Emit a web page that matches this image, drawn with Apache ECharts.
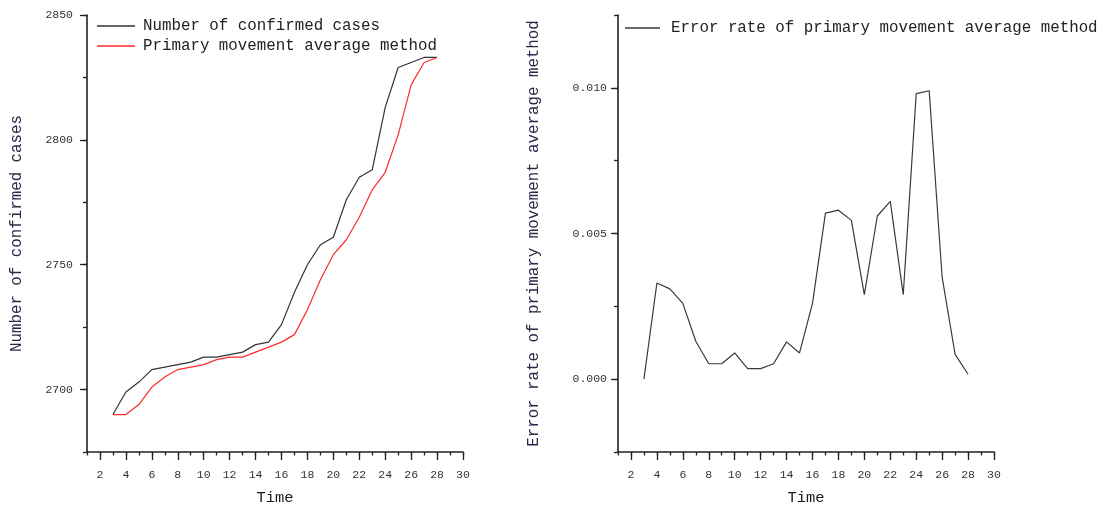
<!DOCTYPE html>
<html>
<head>
<meta charset="utf-8">
<script src="https://cdn.jsdelivr.net/npm/echarts@6/dist/echarts.min.js"></script>
<style>
  html, body { margin: 0; padding: 0; background: #fff; }
  #chart { width: 1102px; height: 511px; }
</style>
</head>
<body>
<div id="chart"></div>
<script>
// Days with observations
const time = [3, 4, 5, 6, 7, 8, 9, 10, 11, 12, 13, 14, 15, 16, 17, 18, 19, 20, 21, 22, 23, 24, 25, 26, 27, 28];

// Cumulative confirmed cases
const confirmedCases = [2690, 2699, 2703, 2708, 2709, 2710, 2711, 2713, 2713, 2714, 2715, 2718, 2719, 2726,
  2739, 2750, 2758, 2761, 2776, 2785, 2788, 2813, 2829, 2831, 2833, 2833];

// One-step moving average forecast
const movingAverage = [2690, 2690, 2694, 2701, 2705, 2708, 2709, 2710, 2712, 2713, 2713, 2715, 2717, 2719,
  2722, 2732, 2744, 2754, 2760, 2769, 2780, 2787, 2802, 2822, 2831, 2833];

// Relative error of the moving average forecast
const errorRate = [0.0000, 0.0033, 0.0031, 0.0026, 0.0013, 0.00053, 0.00053, 0.0009, 0.00036, 0.00036,
  0.00053, 0.00128, 0.0009, 0.0026, 0.0057, 0.0058, 0.00545, 0.0029, 0.0056, 0.0061, 0.0029, 0.0098,
  0.0099, 0.0035, 0.00085, 0.00017];

// Tick labels
const timeTicks = [2, 4, 6, 8, 10, 12, 14, 16, 18, 20, 22, 24, 26, 28, 30];
const casesTicks = [2700, 2750, 2800, 2850];
const errorTicks = [0, 0.005, 0.010];

const seriesNames = ['Number of confirmed cases', 'Primary movement average method'];
const errorName = 'Error rate of primary movement average method';

const FONT = 'Liberation Mono';
const AXIS_COLOR = '#222';

function pairs(xs, ys) { return xs.map((x, i) => [x, ys[i]]); }

// Base axis: axis line plus short unit ticks
function baseX(grid) {
  return {
    gridIndex: grid, type: 'value', min: 1, max: 30, interval: 1,
    axisLine: { show: true, onZero: false, lineStyle: { color: AXIS_COLOR, width: 1.6 } },
    axisTick: { show: true, length: 3.5, lineStyle: { color: AXIS_COLOR, width: 1.3 } },
    axisLabel: { show: false }, splitLine: { show: false }
  };
}
// Overlay axis: long ticks and labels at even values
function labelX(grid) {
  return {
    gridIndex: grid, type: 'value', min: 1, max: 30, position: 'bottom',
    axisLine: { show: false, onZero: false },
    axisTick: { show: true, customValues: timeTicks, length: 8, lineStyle: { color: AXIS_COLOR, width: 1.3 } },
    axisLabel: { customValues: timeTicks, margin: 17, fontFamily: FONT, fontSize: 11.5, color: '#333' },
    splitLine: { show: false },
    name: 'Time', nameLocation: 'middle', nameGap: 38,
    nameTextStyle: { fontFamily: FONT, fontSize: 15.5, color: '#1a1a1a' }
  };
}
function baseY(grid, min, max, step) {
  return {
    gridIndex: grid, type: 'value', min: min, max: max, interval: step, position: 'left',
    axisLine: { show: true, onZero: false, lineStyle: { color: AXIS_COLOR, width: 1.6 } },
    axisTick: { show: true, length: 4, lineStyle: { color: AXIS_COLOR, width: 1.3 } },
    axisLabel: { show: false }, splitLine: { show: false }
  };
}
function labelY(grid, min, max, ticks, fmt, margin, name, nameGap) {
  return {
    gridIndex: grid, type: 'value', min: min, max: max, position: 'left',
    axisLine: { show: false, onZero: false },
    axisTick: { show: true, customValues: ticks, length: 7, lineStyle: { color: AXIS_COLOR, width: 1.3 } },
    axisLabel: { customValues: ticks, formatter: fmt, margin: margin, fontFamily: FONT, fontSize: 11.5, color: '#333' },
    splitLine: { show: false },
    name: name, nameLocation: 'middle', nameRotate: 90, nameGap: nameGap,
    nameTextStyle: { fontFamily: FONT, fontSize: 15.8, color: '#2a2848' }
  };
}

const chart = echarts.init(document.getElementById('chart'), null, { renderer: 'canvas' });

chart.setOption({
  animation: false,
  backgroundColor: '#fff',
  grid: [
    { left: 87, top: 15, width: 376, height: 440 },
    { left: 618, top: 15, width: 376, height: 442 }
  ],
  legend: [
    {
      data: seriesNames, orient: 'vertical', left: 92, top: 13,
      icon: 'rect', itemWidth: 38, itemHeight: 1.6, itemGap: 4,
      textStyle: { fontFamily: FONT, fontSize: 15.8, color: '#222', padding: [0, 0, 0, 3] }
    },
    {
      data: [errorName], orient: 'vertical', left: 620, top: 15,
      icon: 'rect', itemWidth: 35, itemHeight: 1.6,
      textStyle: { fontFamily: FONT, fontSize: 15.8, color: '#222', padding: [0, 0, 0, 6] }
    }
  ],
  xAxis: [baseX(0), labelX(0), baseX(1), labelX(1)],
  yAxis: [
    baseY(0, 2675, 2850, 25),
    labelY(0, 2675, 2850, casesTicks, v => String(v), 14, 'Number of confirmed cases', 62),
    baseY(1, -0.0025, 0.0125, 0.0025),
    labelY(1, -0.0025, 0.0125, errorTicks, v => v.toFixed(3), 11, errorName, 76)
  ],
  series: [
    {
      name: seriesNames[0], type: 'line', xAxisIndex: 0, yAxisIndex: 0,
      data: pairs(time, confirmedCases), showSymbol: false,
      lineStyle: { color: '#333', width: 1.2 }, itemStyle: { color: '#333' }
    },
    {
      name: seriesNames[1], type: 'line', xAxisIndex: 0, yAxisIndex: 0,
      data: pairs(time, movingAverage), showSymbol: false,
      lineStyle: { color: '#ff2a2a', width: 1.2 }, itemStyle: { color: '#ff2a2a' }
    },
    {
      name: errorName, type: 'line', xAxisIndex: 2, yAxisIndex: 2,
      data: pairs(time, errorRate), showSymbol: false,
      lineStyle: { color: '#3a3a3a', width: 1.2 }, itemStyle: { color: '#3a3a3a' }
    }
  ]
});
</script>
</body>
</html>
